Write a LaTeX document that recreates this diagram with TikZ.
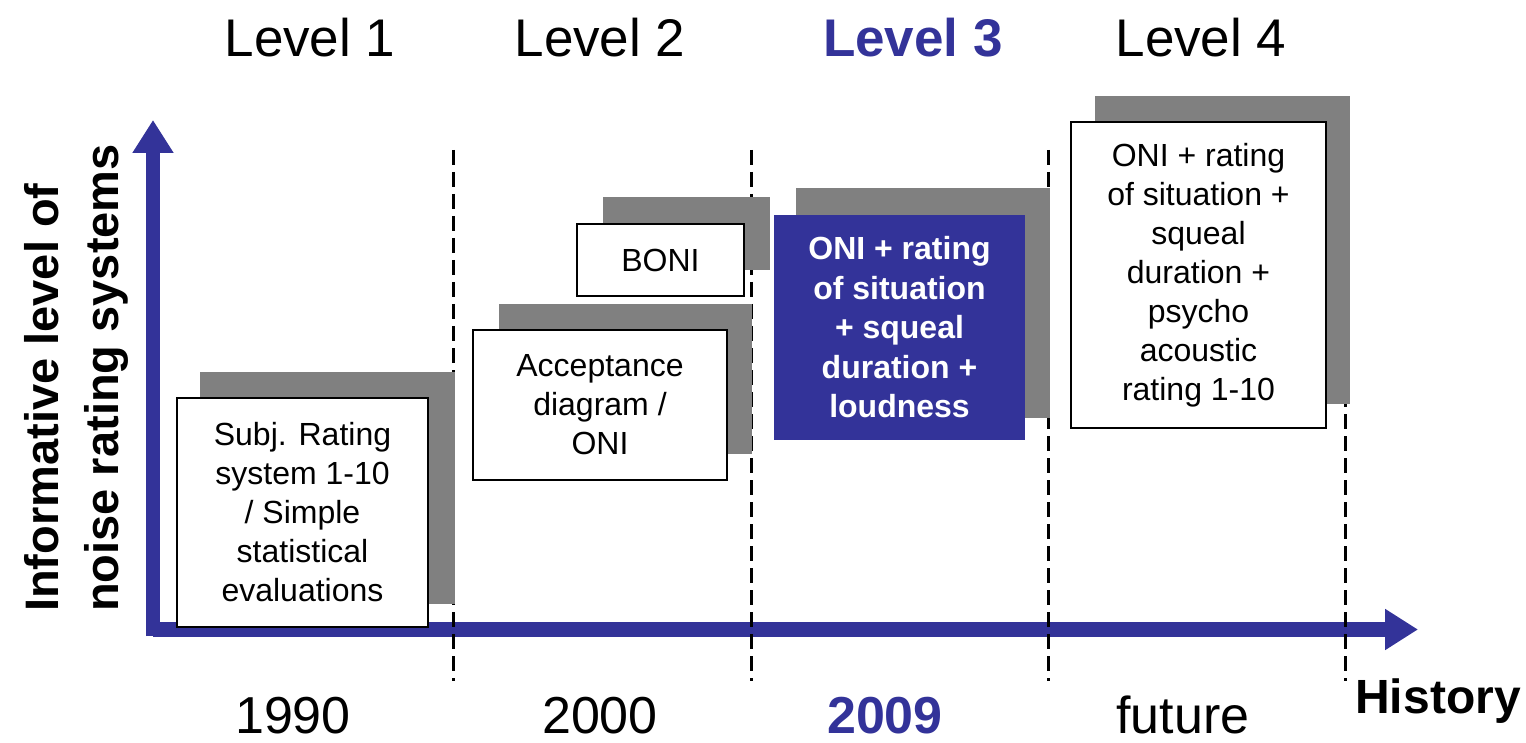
\documentclass[tikz,border=0pt]{standalone}
\usepackage{fontspec}
\setmainfont{Liberation Sans}
\usetikzlibrary{arrows.meta}
\definecolor{axblue}{RGB}{51,51,153}
\definecolor{shgray}{RGB}{128,128,128}
\begin{document}
\begin{tikzpicture}[x=1pt,y=-1pt,
  shadowbox/.style={rectangle,fill=shgray,inner sep=0pt,minimum width=#1},
  whitebox/.style={rectangle,draw=black,line width=2.5pt,fill=white,inner sep=0pt,align=center,
     font=\fontsize{32}{39}\selectfont},
  bluebox/.style={rectangle,fill=axblue,inner sep=0pt,align=center,text=white,
     font=\fontsize{32}{39.5}\selectfont\bfseries},
  levellab/.style={anchor=base,inner sep=0pt,font=\fontsize{53}{60}\selectfont},
  yearlab/.style={anchor=base,inner sep=0pt,font=\fontsize{52}{60}\selectfont},
  axisline/.style={draw=axblue,line width=14.5pt,-{Triangle[width=39pt,length=33pt]}},
  divider/.style={draw=black,line width=3pt,dash pattern=on 15pt off 7pt}
]
\useasboundingbox (0,0) rectangle (1526,743);

% axes
\coordinate (origin) at (153,636);
\coordinate (ytip) at (153,120);
\coordinate (xorigin) at (153,629.5);
\coordinate (xtip) at (1418,629.5);
\draw[axisline] (origin) -- (ytip);
\draw[axisline] (xorigin) -- (xtip);

% dividers
\foreach \i/\xx in {1/453,2/751,3/1048,4/1345}{
  \coordinate (dt\i) at (\xx,150);
  \coordinate (db\i) at (\xx,681);
  \draw[divider] (dt\i) -- (db\i);
}

% shadows
\node[shadowbox=255pt,minimum height=232pt] (sh1) at (327.5,488) {};
\node[shadowbox=167pt,minimum height=73pt] (sh2) at (686.5,233.5) {};
\node[shadowbox=253pt,minimum height=150pt] (sh3) at (625.5,379) {};
\node[shadowbox=254pt,minimum height=230pt] (sh4) at (923,303) {};
\node[shadowbox=255pt,minimum height=308pt] (sh5) at (1222.5,250) {};

% boxes
\node[whitebox,minimum width=251pt,minimum height=229pt] (b1) at (302.5,512.5)
  {Subj. Rating\\system 1-10\\/ Simple\\statistical\\evaluations};
\node[whitebox,minimum width=167pt,minimum height=72pt] (b2) at (660.5,260) {BONI};
\node[whitebox,minimum width=254pt,minimum height=150pt] (b3) at (600,405)
  {Acceptance\\diagram /\\ONI};
\node[bluebox,minimum width=251pt,minimum height=225pt] (b4) at (899.5,327.5)
  {ONI + rating\\of situation\\+ squeal\\duration +\\loudness};
\node[whitebox,minimum width=255pt,minimum height=306pt] (b5) at (1198.5,275)
  {ONI + rating\\of situation +\\squeal\\duration +\\psycho\\acoustic\\rating 1-10};

% level labels
\node[levellab] (l1) at (310,57) {Level 1};
\node[levellab] (l2) at (600,57) {Level 2};
\node[levellab,text=axblue,font=\fontsize{53}{60}\selectfont\bfseries] (l3) at (913,57) {Level 3};
\node[levellab] (l4) at (1201,57) {Level 4};

% years
\node[yearlab] (y1) at (293,733) {1990};
\node[yearlab] (y2) at (600,733) {2000};
\node[yearlab,text=axblue,font=\fontsize{52}{60}\selectfont\bfseries] (y3) at (885,733) {2009};
\node[yearlab] (y4) at (1183,733) {future};

\node[anchor=base,inner sep=0pt,font=\fontsize{48}{55}\selectfont\bfseries] (hist) at (1438,713) {History};

% y label
\node[rotate=90,anchor=base west,inner sep=0pt,font=\fontsize{47}{54}\selectfont\bfseries] (yl1) at (58,612) {Informative level of};
\node[rotate=90,anchor=base west,inner sep=0pt,font=\fontsize{47}{54}\selectfont\bfseries] (yl2) at (118,612) {noise rating systems};
\end{tikzpicture}
\end{document}
